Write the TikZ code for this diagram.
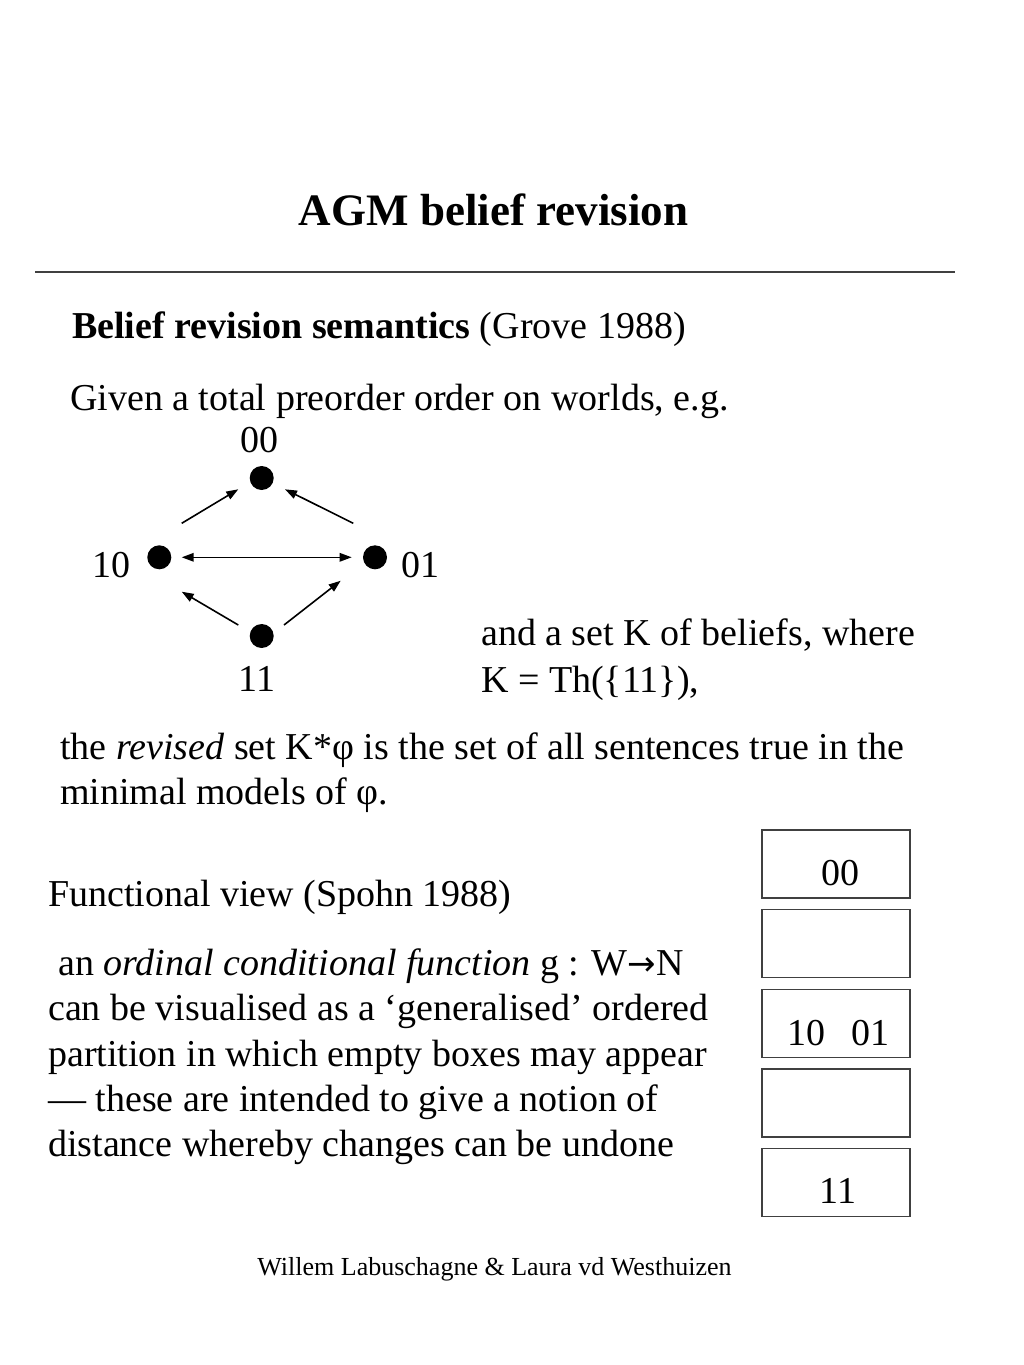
\documentclass[tikz,border=0pt]{standalone}
\usepackage{fontspec}
\setmainfont{Liberation Serif}
\newfontfamily\arrowfont{DejaVu Sans}
\usetikzlibrary{calc,arrows.meta}
\definecolor{rulegray}{HTML}{404040}
\begin{document}
\begin{tikzpicture}[x=1pt,y=-1pt,
  txt/.style={inner sep=0pt, anchor=base west, font=\fontsize{38}{45}\selectfont},
  lbl/.style={inner sep=0pt, anchor=base, font=\fontsize{38}{45}\selectfont},
  dot/.style={circle, fill=black, inner sep=0pt, minimum size=24pt},
  arr/.style={-{Triangle[length=12pt,width=8.5pt]}, line width=1.6pt},
  darr/.style={{Triangle[length=12pt,width=8.5pt]}-{Triangle[length=12pt,width=8.5pt]}, line width=1.6pt},
  pbox/.style={draw=rulegray, line width=1.6pt, minimum width=148pt, minimum height=68pt, inner sep=0pt}
]
\path[use as bounding box, fill=white] (0,0) rectangle (1024,1365);

% title and rule
\node[inner sep=0pt, anchor=base, font=\fontsize{45}{54}\selectfont\bfseries] (title) at (493.5,225) {AGM belief revision};
\coordinate (rl) at (35,272);
\coordinate (rr) at (955,272);
\draw[rulegray, line width=2pt] (rl) -- (rr);

\node[txt] (h1) at (72,338) {\textbf{Belief revision semantics} (Grove 1988)};
\node[txt] (given) at (70,410) {Given a total preorder order on worlds, e.g.};

% order diagram
\node[dot] (d00) at (261.7,478) {};
\node[dot] (d10) at (159.3,557.3) {};
\node[dot] (d01) at (375,557.3) {};
\node[dot] (d11) at (261.7,636) {};
\node[lbl] (l00) at (259,452) {00};
\node[lbl, anchor=base east] (l10) at (131,577) {10};
\node[lbl, anchor=base west] (l01) at (401,577) {01};
\node[lbl] (l11) at (257,691) {11};

\draw[arr] ($(d10)+(22.4,-34)$) -- ($(d00)+(-23.4,11.3)$);
\draw[arr] ($(d01)+(-21.7,-34)$) -- ($(d00)+(23.3,11.3)$);
\draw[darr] ($(d10)+(22.4,0)$) -- ($(d01)+(-23.3,0)$);
\draw[arr] ($(d11)+(-23.4,-11)$) -- ($(d10)+(22.4,34.4)$);
\draw[arr] ($(d11)+(22.3,-11)$) -- ($(d01)+(-34.3,23.4)$);

\node[txt] (k1) at (481,645) {and a set K of beliefs, where};
\node[txt] (k2) at (481,692) {K = Th(\{11\}),};

\node[txt] (r1) at (60,759) {the \textit{revised} set K*φ is the set of all sentences true in the};
\node[txt] (r2) at (60,804) {minimal models of φ.};

\node[txt] (f0) at (48,906) {Functional view (Spohn 1988)};
\node[txt] (f1) at (58,975) {an \textit{ordinal conditional function} g : W{\arrowfont\fontsize{34}{40}\selectfont →}N};
\node[txt] (f2) at (48,1020) {can be visualised as a ‘generalised’ ordered};
\node[txt] (f3) at (48,1066) {partition in which empty boxes may appear};
\node[txt] (f4) at (48,1111) {— these are intended to give a notion of};
\node[txt] (f5) at (48,1156) {distance whereby changes can be undone};

% partition boxes
\node[pbox] (b1) at (835.8,864.2) {};
\node[pbox] (b2) at (835.8,943.5) {};
\node[pbox] (b3) at (835.8,1023.3) {};
\node[pbox] (b4) at (835.8,1103) {};
\node[pbox] (b5) at (835.8,1182.5) {};
\node[lbl] (t1) at (840,885) {00};
\node[lbl] (t3) at (838,1045) {10\hspace{26pt}01};
\node[lbl] (t5) at (838,1203) {11};

\node[inner sep=0pt, anchor=base, font=\fontsize{26}{31}\selectfont] (foot) at (494.5,1275) {Willem Labuschagne \& Laura vd Westhuizen};
\end{tikzpicture}
\end{document}
